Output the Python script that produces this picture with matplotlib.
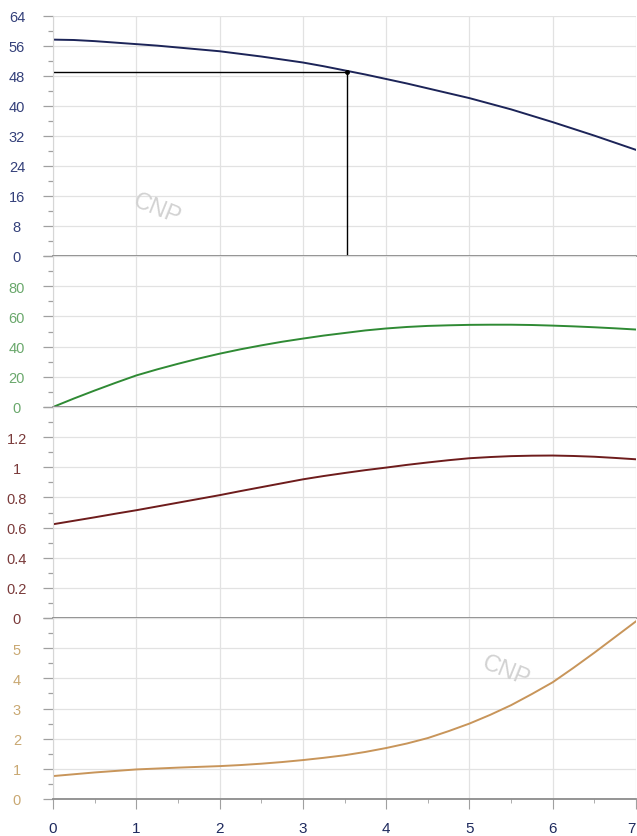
import matplotlib.pyplot as plt
import numpy as np
from matplotlib.ticker import MultipleLocator

plt.rcParams['font.family'] = ['Liberation Sans', 'DejaVu Sans']

# x positions where the curves were read (every 0.25)
x = np.arange(29) * 0.25

head = [57.7, 57.6, 57.3, 56.9, 56.5, 56.1, 55.6, 55.1, 54.6, 53.9, 53.2, 52.4, 51.6, 50.6, 49.5,
        48.4, 47.2, 46.0, 44.7, 43.4, 42.1, 40.6, 39.1, 37.4, 35.7, 33.9, 32.1, 30.2, 28.3]
power = [0, 5.6, 10.9, 16.0, 20.9, 24.9, 28.6, 32.1, 35.3, 38.2, 40.8, 43.2, 45.3, 47.3, 49.0,
         50.7, 52.0, 53.0, 53.7, 54.1, 54.4, 54.5, 54.5, 54.3, 53.9, 53.4, 52.8, 52.1, 51.3]
efficiency = [0.622, 0.645, 0.668, 0.692, 0.715, 0.74, 0.765, 0.79, 0.815, 0.842, 0.868, 0.894,
              0.92, 0.942, 0.962, 0.981, 0.998, 1.016, 1.032, 1.047, 1.06, 1.068, 1.074, 1.077,
              1.078, 1.075, 1.07, 1.062, 1.053]
npsh = [0.76, 0.82, 0.88, 0.93, 0.98, 1.01, 1.04, 1.065, 1.09, 1.125, 1.17, 1.225, 1.29, 1.365,
        1.45, 1.56, 1.69, 1.84, 2.02, 2.25, 2.5, 2.79, 3.11, 3.48, 3.87, 4.35, 4.85, 5.37, 5.89]

x_ticks = [0, 1, 2, 3, 4, 5, 6, 7]

# duty point on the head curve
duty_x = 3.53
duty_y = 49.1

panels = [
    # values, line colour, label colour, ymax, major, minor, labels shown
    (head, '#1c2458', '#34407a', 64, 8, 4, [0, 8, 16, 24, 32, 40, 48, 56, 64]),
    (power, '#2f8a34', '#6aa86c', 100, 20, 10, [0, 20, 40, 60, 80]),
    (efficiency, '#6e1c1c', '#7a3a3a', 1.4, 0.2, 0.1, [0, 0.2, 0.4, 0.6, 0.8, 1, 1.2]),
    (npsh, '#c8955a', '#c9a872', 6, 1, 0.5, [0, 1, 2, 3, 4, 5]),
]

W, H = 637, 837
edges = [17, 257, 408, 619, 800]
left = 53

fig = plt.figure(figsize=(W / 100, H / 100), dpi=100)
fig.patch.set_facecolor('white')

axes = []
for i, (vals, lc, tc, ymax, major, minor, shown) in enumerate(panels):
    top, bot = edges[i], edges[i + 1]
    ax = fig.add_axes([left / W, 1 - bot / H, (W - left - 1) / W, (bot - top) / H])
    axes.append(ax)
    ax.set_xlim(0, 7)
    ax.set_ylim(0, ymax)
    ax.set_xticks(x_ticks)
    ax.xaxis.set_minor_locator(MultipleLocator(0.5))
    ax.set_yticks(np.arange(0, ymax + major / 2, major))
    ax.yaxis.set_minor_locator(MultipleLocator(minor))
    ax.grid(True, which='major', color='#e2e2e2', lw=0.9)
    ax.set_axisbelow(True)
    for s in ['top', 'right']:
        ax.spines[s].set_visible(False)
    ax.spines['left'].set_color('#d6d6d6')
    ax.spines['bottom'].set_color('#8c8c8c')
    ax.spines['bottom'].set_linewidth(1.3)
    ax.tick_params(axis='y', which='major', length=7, color='#a0a0a0', width=0.9,
                   labelsize=10.5, labelcolor=tc, pad=19)
    ax.tick_params(axis='y', which='minor', length=3.5, color='#a0a0a0', width=0.9)
    labels = []
    for t in ax.get_yticks():
        if any(abs(t - s) < 1e-9 for s in shown):
            labels.append('%g' % t)
        else:
            labels.append('')
    ax.set_yticklabels(labels)
    for lab in ax.get_yticklabels():
        lab.set_horizontalalignment('center')
    if i < 3:
        ax.tick_params(axis='x', which='both', length=0, labelbottom=False)
    else:
        ax.tick_params(axis='x', which='major', length=7, color='#a0a0a0',
                       labelsize=11, labelcolor='#1e2a5e', pad=9)
        ax.tick_params(axis='x', which='minor', length=3, color='#a0a0a0')
        ax.get_xticklabels()[-1].set_horizontalalignment('right')
    ax.plot(x, vals, color=lc, lw=1.4, solid_joinstyle='round')
    ax.patch.set_alpha(0)

# duty point cross lines
ax1 = axes[0]
ax1.plot([0, duty_x], [duty_y, duty_y], color='black', lw=1.0)
ax1.plot([duty_x, duty_x], [0, duty_y], color='black', lw=1.0)
ax1.plot([duty_x], [duty_y], 'o', color='black', ms=2.5)

# watermarks
for wx, wy in [(157, 210), (506, 672)]:
    fig.text(wx / W, 1 - wy / H, 'CNP', color='#d2d2d2', fontsize=17, rotation=-22,
             ha='center', va='center')

fig.savefig('out.png', dpi=100)
